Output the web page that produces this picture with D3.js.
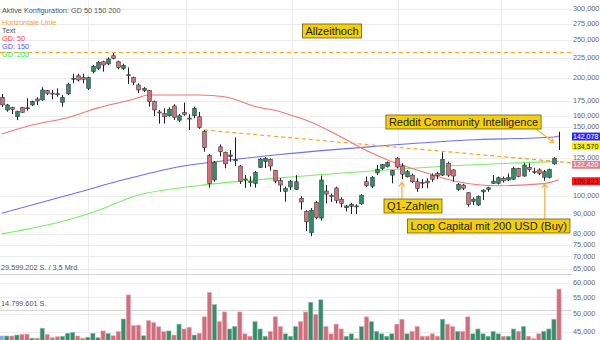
<!DOCTYPE html>
<html><head><meta charset="utf-8">
<script src="https://cdn.jsdelivr.net/npm/d3@7"></script>
<style>html,body{margin:0;padding:0;background:#fff}svg{display:block}</style>
</head><body>
<svg id="chart" width="600" height="340"></svg>
<script>
// Daily candles (price in USD)
const opens  = [178.5,165.6,167.9,159.2,167.9,167.8,170.6,176.7,175.7,185.6,182.9,182.2,173.3,182.0,198.9,202.5,200.3,188.1,207.5,211.6,220.0,217.1,227.9,220.0,211.6,203.8,200.3,191.9,185.6,185.6,173.9,163.7,162.1,160.1,169.6,156.0,163.2,157.9,160.1,159.2,145.8,126.6,109.7,133.4,129.2,125.9,123.4,119.1,110.4,108.8,107.4,118.2,122.2,123.9,116.2,109.4,102.6,105.3,103.8,98.5,91.1,80.4,96.1,87.7,102.8,100.2,104.7,98.0,93.2,94.0,94.2,95.3,108.6,105.8,114.4,117.4,118.8,112.9,124.7,119.1,111.8,112.9,108.6,108.1,109.0,112.9,114.0,112.9,121.1,116.4,103.8,106.5,101.8,96.6,94.7,102.3,103.8,107.6,107.6,110.8,109.7,110.2,117.5,112.3,118.2,115.3,116.4,111.4,111.4,120.6,142.0];
const highs  = [182.0,171.6,168.9,165.0,168.6,177.4,175.0,178.5,189.3,186.3,186.3,188.1,180.9,194.5,204.9,204.9,204.9,201.5,215.8,221.3,221.3,225.7,231.5,221.3,217.5,212.8,201.5,193.8,189.5,186.3,175.0,165.6,167.3,168.2,171.3,161.8,173.0,161.5,168.9,163.7,147.2,127.7,122.7,135.3,129.6,130.9,141.0,119.8,112.9,112.1,115.7,124.9,125.6,124.6,116.4,111.0,105.6,109.7,112.9,99.7,91.8,93.0,96.9,112.6,106.5,101.3,105.5,99.1,94.8,95.9,95.1,101.0,112.0,112.3,119.8,120.6,122.3,116.4,125.4,121.1,116.4,113.9,110.8,110.3,110.8,114.0,115.2,129.1,122.2,116.9,107.8,107.2,102.3,99.1,100.2,103.8,105.4,112.9,111.9,111.9,114.0,118.6,117.9,121.1,121.1,117.9,117.5,116.4,117.3,125.4,145.8];
const lows   = [168.6,164.0,161.8,156.0,162.8,165.0,169.6,170.6,175.0,180.9,176.4,179.1,168.9,180.9,193.8,195.7,193.8,186.3,205.3,209.6,207.5,215.8,223.2,210.4,209.6,193.0,191.9,182.9,184.1,168.9,159.9,152.8,152.8,159.2,156.2,154.3,160.1,147.2,157.7,148.2,129.6,104.8,108.6,126.1,117.5,122.2,119.1,107.2,104.8,105.4,104.9,117.7,117.7,115.9,107.6,102.3,96.6,103.4,103.4,92.1,81.3,78.8,87.1,86.4,95.6,96.4,95.6,93.4,91.2,89.8,89.8,94.7,105.4,104.7,112.9,116.4,118.1,107.6,117.5,110.2,111.3,107.8,102.3,104.5,104.5,108.6,110.2,112.3,111.8,108.6,103.1,103.4,93.8,94.7,94.2,97.5,102.4,107.2,106.9,108.1,109.0,109.7,111.5,111.8,115.2,113.7,112.9,109.2,110.8,120.0,130.9];
const closes = [170.6,170.6,166.3,164.0,163.4,167.4,173.9,174.7,186.3,182.7,182.5,181.8,178.5,192.7,199.5,197.6,198.4,200.3,214.1,219.3,215.8,223.6,224.5,212.8,215.4,203.3,195.0,186.3,188.1,173.9,165.6,163.2,159.2,166.3,158.6,160.1,161.5,157.5,167.3,149.3,132.7,107.4,121.8,129.6,120.6,127.1,123.6,108.9,110.2,108.5,114.6,124.1,124.6,119.1,109.0,106.5,104.3,109.0,108.6,96.4,85.8,91.8,87.9,109.7,101.0,100.0,97.3,95.6,94.2,95.1,94.0,100.4,106.1,111.4,116.9,120.1,121.5,115.9,118.4,113.5,115.2,108.6,104.5,107.9,107.9,110.2,112.5,123.9,112.9,112.3,107.0,104.5,95.1,98.0,99.5,103.4,104.8,109.0,111.2,109.2,111.4,117.5,111.9,119.8,116.6,115.1,114.1,115.2,116.6,124.7,134.6];

// Daily volume in millions of shares
const volumes = [4.1,4.1,4.1,4.5,4.8,4.9,3.2,3.2,7.3,4.8,3.4,3.8,4.0,5.2,5.6,4.1,3.2,3.6,5.2,3.4,6.2,5.1,4.2,5.9,11.1,21.0,8.4,8.6,4.2,10.4,9.6,7.9,5.9,6.2,4.5,9.0,7.0,7.7,4.5,5.2,12,22,17,10,14,7,8,14,5,4,10,7,4,6,12,8,5,4,8,10,14,18,13,19,8,5,9,7,4,5,3,8,12,10,6,5,4,5,9,11,5,6,8,4,4,5,4,11,9,8,6,6,12,5,7,5,4,6,5,4,4,7,6,8,4,3,5,6,7,11,23.4];

// Moving averages, read at selected candle indices
const gd50Idx  = [0,6,13,19,26,29,39,44,50,55,57,60,67,71,77,82,90,98,107,110];
const gd50Val  = [143.8,151.6,158.3,167.7,176.4,180.9,180.9,179.1,169.1,164.0,160.8,156.2,141.3,132.4,122.2,116.4,108.6,106.1,107.4,109.823];
const gd150Idx = [0,13,26,37,41,55,73,92,109,110];
const gd150Val = [90.2,100.3,111.5,119.8,121.6,127.5,133.5,138.8,141.3,142.078];
const gd200Idx = [0,13,19,26,39,55,73,92,110];
const gd200Val = [79.9,86.7,91.7,99.6,106.2,111.1,115.7,119.8,122.42];

// Reference lines
const allTimeHigh = 232.3;
const trendStart = {i: 40, v: 147.2};
const trendEnd   = {i: 112.6, v: 121.3};
const lastPrice  = 134.57;

// Axis ticks
const priceTicks = [300,275,250,225,200,175,160,150,125,100,90,80,75,70,65,60,55,50,45];
const volumeMax = 29599202;

const de = d3.formatLocale({decimal: ",", thousands: ".", grouping: [3], currency: ["", ""]});
const fmtPrice = de.format(",.3f");
const fmtShares = de.format(",d");

const svg = d3.select("#chart");
const font = "'Liberation Sans', Arial, sans-serif";
const plotRight = 572;

const x = d3.scaleLinear().domain([0, 110]).range([1.7, 559]);
const y = d3.scaleLog().domain([45, 300]).range([331.5, 9]);
const vy = d3.scaleLinear().domain([0, volumeMax / 1e6]).range([346, 274]);

// grid
const grid = svg.append("g");
grid.selectAll("line.h").data(priceTicks).join("line")
  .attr("x1", 0).attr("x2", plotRight)
  .attr("y1", d => Math.round(y(d)) + 0.5).attr("y2", d => Math.round(y(d)) + 0.5)
  .attr("stroke", "#ececec").attr("stroke-width", 1);
const monthIdx = [17, 36.4, 57.3, 78.2, 98.5];
grid.selectAll("line.v").data(monthIdx).join("line")
  .attr("x1", d => Math.round(x(d)) + 0.5).attr("x2", d => Math.round(x(d)) + 0.5)
  .attr("y1", 0).attr("y2", 340)
  .attr("stroke", "#ececec");

// volume reference lines
[volumeMax / 1e6, volumeMax / 2e6].forEach(v => {
  svg.append("line").attr("x1", 0).attr("x2", plotRight)
    .attr("y1", Math.round(vy(v)) + 0.5).attr("y2", Math.round(vy(v)) + 0.5)
    .attr("stroke", "#d6d6d6");
});
svg.append("text").attr("x", 1).attr("y", vy(volumeMax / 1e6) - 4)
  .attr("font-family", font).attr("font-size", 7.3).attr("fill", "#555")
  .text(fmtShares(volumeMax) + " S. / 3,5 Mrd.");
svg.append("text").attr("x", 1).attr("y", vy(volumeMax / 2e6) - 4)
  .attr("font-family", font).attr("font-size", 7.3).attr("fill", "#555")
  .text(fmtShares(volumeMax / 2 - 0.5) + " S.");

// volume bars
const idx = d3.range(opens.length);
const up = i => closes[i] >= opens[i];
svg.append("g").selectAll("rect").data(idx).join("rect")
  .attr("x", i => x(i) - 2.1).attr("width", 4.2)
  .attr("y", i => vy(volumes[i])).attr("height", i => 346 - vy(volumes[i]))
  .attr("fill", i => i === 0 ? "#7fa7e0" : (up(i) ? "#3a8a6c" : "#cf6f7e"))
  .attr("stroke", i => i === 0 ? "#9fbde8" : (up(i) ? "#8bbfa9" : "#e7a9b2"))
  .attr("stroke-width", 0.6);

// moving averages
const maLine = d3.line().x(d => x(d[0])).y(d => y(d[1])).curve(d3.curveMonotoneX);
[[gd200Idx, gd200Val, "#77ee66"], [gd150Idx, gd150Val, "#6f6ff2"], [gd50Idx, gd50Val, "#f27575"]]
  .forEach(([is, vs, c]) => {
    svg.append("path").datum(is.map((i, k) => [i, vs[k]]))
      .attr("d", maLine).attr("fill", "none").attr("stroke", c).attr("stroke-width", 1.1);
  });

// reference lines
svg.append("line").attr("x1", 0).attr("x2", plotRight)
  .attr("y1", y(allTimeHigh)).attr("y2", y(allTimeHigh))
  .attr("stroke", "#f5a31c").attr("stroke-width", 1.2).attr("stroke-dasharray", "4,3");
svg.append("line").attr("x1", x(trendStart.i)).attr("x2", x(trendEnd.i))
  .attr("y1", y(trendStart.v)).attr("y2", y(trendEnd.v))
  .attr("stroke", "#f5a31c").attr("stroke-width", 1.2).attr("stroke-dasharray", "4,3");

// candles
const cg = svg.append("g");
cg.selectAll("line").data(idx).join("line")
  .attr("x1", i => Math.round(x(i)) + 0.5).attr("x2", i => Math.round(x(i)) + 0.5)
  .attr("y1", i => y(highs[i])).attr("y2", i => y(lows[i]))
  .attr("stroke", "#1e1e1e").attr("stroke-width", 1);
cg.selectAll("rect").data(idx).join("rect")
  .attr("x", i => Math.round(x(i)) + 0.5 - 1.8).attr("width", i => i === 110 ? 0 : 3.6)
  .attr("y", i => y(Math.max(opens[i], closes[i])))
  .attr("height", i => Math.max(1, y(Math.min(opens[i], closes[i])) - y(Math.max(opens[i], closes[i]))))
  .attr("fill", i => up(i) ? "#2f8d68" : "#d3707c")
  .attr("stroke", "#333").attr("stroke-width", 0.6);

// legend
const legend = [
  ["Aktive Konfiguration: GD 50 150 200", "#555", 12.5],
  ["Horizontale Linie", "#f5a31c", 24.5],
  ["Text", "#555", 32.5],
  ["GD: 50", "#ff4444", 40.5],
  ["GD: 150", "#5555ff", 48.5],
  ["GD: 200", "#44dd44", 56.8]
];
svg.append("g").selectAll("text").data(legend).join("text")
  .attr("x", 2).attr("y", d => d[2])
  .attr("font-family", font).attr("font-size", 7.3).attr("fill", d => d[1])
  .text(d => d[0]);

// price axis
svg.append("g").selectAll("text").data(priceTicks).join("text")
  .attr("x", 573).attr("y", d => y(d) + 2.2)
  .attr("font-family", font).attr("font-size", 7.3).attr("fill", "#666")
  .text(d => fmtPrice(d));

// value badges on the axis
const badges = [
  [gd150Val[gd150Val.length - 1], "#2b2bf0", "#fff", 0.5],
  [lastPrice, "#ffee00", "#222", 0.8],
  [gd200Val[gd200Val.length - 1], "#d9838c", "#fff", 3.4],
  [gd50Val[gd50Val.length - 1], "#ff1a1a", "#222", 1.4]
];
const bg = svg.append("g");
badges.forEach(([v, f, t, dy]) => {
  const cy = y(v) + dy;
  bg.append("rect").attr("x", 572).attr("y", cy - 4).attr("width", 28).attr("height", 8).attr("fill", f);
  bg.append("text").attr("x", 573).attr("y", cy + 2.5)
    .attr("font-family", font).attr("font-size", 7).attr("fill", t).text(fmtPrice(v));
});

// annotations
function note(label, cx, cy) {
  const g = svg.append("g");
  const t = g.append("text").attr("x", cx).attr("y", cy + 4)
    .attr("text-anchor", "middle").attr("font-family", font).attr("font-size", 11)
    .attr("fill", "#1a1a1a").text(label);
  const w = t.node().getComputedTextLength();
  g.insert("rect", "text").attr("x", cx - w / 2 - 3).attr("y", cy - 7).attr("width", w + 6).attr("height", 14)
    .attr("fill", "#f4cf0a").attr("stroke", "#6d5b10").attr("stroke-width", 0.8);
}
function arrow(x1, y1, x2, y2) {
  const a = Math.atan2(y2 - y1, x2 - x1), L = 5;
  const p = d3.path();
  p.moveTo(x1, y1); p.lineTo(x2, y2);
  p.moveTo(x2 - L * Math.cos(a - 0.6), y2 - L * Math.sin(a - 0.6)); p.lineTo(x2, y2);
  p.lineTo(x2 - L * Math.cos(a + 0.6), y2 - L * Math.sin(a + 0.6));
  svg.append("path").attr("d", p.toString()).attr("fill", "none")
    .attr("stroke", "#f7b34c").attr("stroke-width", 1.3);
}
arrow(536, 129, x(108.9), y(lastPrice) - 3);
arrow(x(79), 200, x(79), y(lows[79]) + 3);
arrow(x(107) + 1, 219, x(107) + 1, y(lows[107]) + 3);
note("Allzeithoch", 332, 31);
note("Reddit Community Intelligence", 463.5, 122);
note("Q1-Zahlen", 413, 206);
note("Loop Capital mit 200 USD (Buy)", 488.7, 226);
</script>
</body></html>
